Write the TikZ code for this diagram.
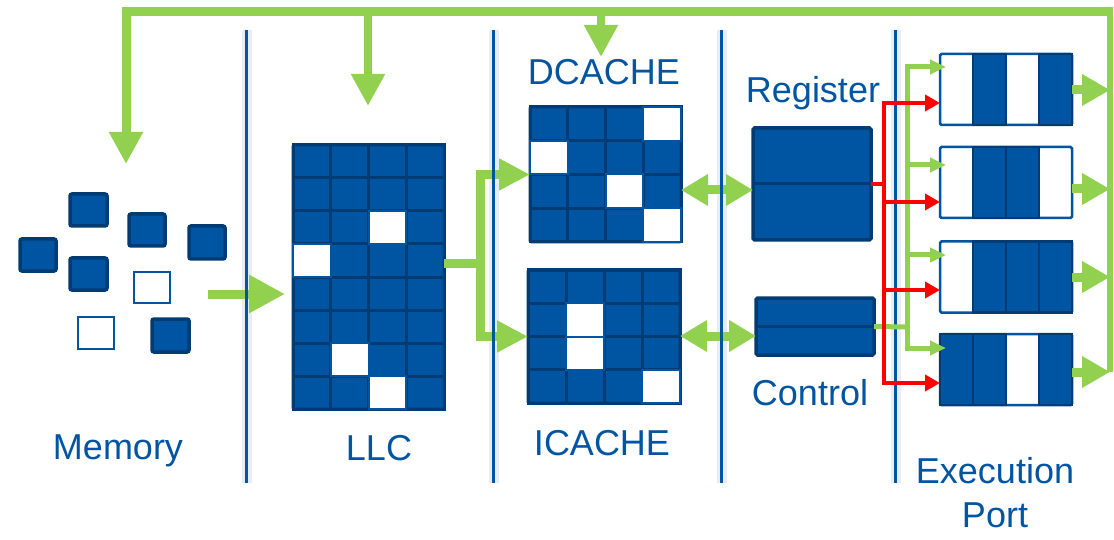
\documentclass[tikz,border=0pt]{standalone}
\usepackage{fontspec}
\setmainfont{Liberation Sans}
\usetikzlibrary{arrows.meta}

\definecolor{cpuBlue}{RGB}{0,85,162}
\definecolor{cpuDark}{RGB}{0,59,115}
\definecolor{busGreen}{RGB}{146,208,80}
\definecolor{ctlRed}{RGB}{255,0,0}
\definecolor{sepGlow}{RGB}{232,236,248}

\tikzset{
  block/.style={draw=cpuDark, fill=cpuBlue, line width=3pt, inner sep=0pt, outer sep=0pt, rounded corners=1.5pt},
  portbox/.style={draw=cpuBlue, fill=white, line width=2.5pt, inner sep=0pt, outer sep=0pt, rounded corners=1.5pt},
  chip/.style={draw=cpuDark, fill=cpuBlue, line width=3.5pt, rounded corners=2pt, inner sep=0pt, outer sep=0pt},
  chipfree/.style={draw=cpuBlue, fill=white, line width=2pt, inner sep=0pt, outer sep=0pt},
  cellline/.style={draw=cpuDark, line width=3pt},
  freecell/.style={draw=cpuBlue, fill=white, line width=2pt},
  bluecell/.style={draw=cpuDark, fill=cpuBlue, line width=2.5pt},
  lbl/.style={text=cpuBlue, font=\fontsize{36}{40}\selectfont, anchor=base, inner sep=0pt},
  sepline/.style={draw=cpuBlue, line width=3pt},
  sephalo/.style={draw=sepGlow, line width=10pt},
  fat/.style={draw=busGreen, line width=9pt},
  fatarrow/.style={fat, -{Triangle[width=32pt,length=32pt]}},
  splitarrow/.style={fat, -{Triangle[width=30pt,length=31pt]}},
  entryarrow/.style={fat, -{Triangle[width=36pt,length=36pt]}},
  outarrow/.style={fat, -{Triangle[width=30pt,length=28pt]}},
  dblarrow/.style={fat, {Triangle[width=30pt,length=27pt]}-{Triangle[width=30pt,length=27pt]}},
  redline/.style={draw=ctlRed, line width=4.5pt},
  redarrow/.style={redline, -{Triangle[width=16pt,length=15pt]}},
  thinline/.style={draw=busGreen, line width=5pt},
  thinarrow/.style={thinline, -{Triangle[width=14pt,length=16pt]}},
}

% grid of cells laid over a block node: node, cell width, cell height, columns, rows
\newcommand\fillcells[5]{%
  \begin{scope}[shift={(#1.north west)}, x=#2pt, y=-#3pt]
    \foreach \i in {1,...,#4}{\foreach \j in {1,...,#5}{%
      \draw[cellline] (\i-1,\j-1) rectangle (\i,\j);}}
  \end{scope}}
% paint selected cells of a block: node, cell width, cell height, style, list of col/row
\newcommand\paintcells[5]{%
  \begin{scope}[shift={(#1.north west)}, x=#2pt, y=-#3pt]
    \foreach \c/\r in {#5}{\draw[#4] (\c,\r) rectangle ++(1,1);}
  \end{scope}}

\begin{document}
\begin{tikzpicture}[x=1pt,y=-1pt]
\useasboundingbox (0,0) rectangle (1114,540);
\fill[white] (0,0) rectangle (1114,540);

% soft halo of the stage separators
\foreach \sx in {246,493,721,895} \draw[sephalo] (\sx+1,30) -- (\sx+1,483);

% memory contents
\node[chip, minimum width=37pt, minimum height=32pt] (m1) at (88.5,210) {};
\node[chip, minimum width=36pt, minimum height=32pt] (m2) at (147,230) {};
\node[chip, minimum width=36pt, minimum height=33pt] (m3) at (207,242.5) {};
\node[chip, minimum width=36pt, minimum height=32pt] (m4) at (38,255) {};
\node[chip, minimum width=37pt, minimum height=32pt] (m5) at (88.5,274) {};
\node[chipfree, minimum width=36pt, minimum height=31pt] (m6) at (152,287.5) {};
\node[chipfree, minimum width=36pt, minimum height=32pt] (m7) at (96,333) {};
\node[chip, minimum width=37pt, minimum height=33pt] (m8) at (170.5,335.5) {};

% caches
\node[block, minimum width=151pt, minimum height=264pt] (llc) at (368.5,277) {};
\fillcells{llc}{37.75}{33}{4}{8}
\paintcells{llc}{37.75}{33}{freecell}{2/2,0/3,1/6,2/7}

\node[block, minimum width=151pt, minimum height=135pt] (dcache) at (605.5,174.5) {};
\fillcells{dcache}{37.75}{33.75}{4}{4}
\paintcells{dcache}{37.75}{33.75}{freecell}{3/0,0/1,2/2,3/3}

\node[block, minimum width=152pt, minimum height=133pt] (icache) at (604,336.5) {};
\fillcells{icache}{38}{33.25}{4}{4}
\paintcells{icache}{38}{33.25}{freecell}{1/1,1/2,3/3}

% register file and control
\node[block, line width=3.5pt, minimum width=118pt, minimum height=112pt] (reg) at (812,184) {};
\draw[cellline, line width=3pt] (reg.west) -- (reg.east);
\node[block, line width=3.5pt, minimum width=118pt, minimum height=57pt] (ctrl) at (815,326.5) {};
\draw[cellline, line width=3pt] (ctrl.west) -- (ctrl.east);

% execution ports
\node[portbox, minimum width=132pt, minimum height=71pt] (port1) at (1006,89.5) {};
\paintcells{port1}{33}{71}{bluecell}{1/0,3/0}
\node[portbox, minimum width=132pt, minimum height=71pt] (port2) at (1006,182.5) {};
\paintcells{port2}{33}{71}{bluecell}{1/0,2/0}
\node[portbox, minimum width=132pt, minimum height=71pt] (port3) at (1006,277) {};
\paintcells{port3}{33}{71}{bluecell}{1/0,2/0,3/0}
\node[portbox, minimum width=132pt, minimum height=71pt] (port4) at (1006,369.5) {};
\paintcells{port4}{33}{71}{bluecell}{0/0,1/0,3/0}

% labels
\node[lbl] (tMem) at (118,459) {Memory};
\node[lbl] (tLLC) at (379,460) {LLC};
\node[lbl] (tDc) at (604,85) {DCACHE};
\node[lbl] (tIc) at (602,455) {ICACHE};
\node[lbl] (tReg) at (813,103) {Register};
\node[lbl] (tCtl) at (810,405) {Control};
\node[lbl] (tEx) at (995,483) {Execution};
\node[lbl] (tPort) at (995,527) {Port};

% write-back bus from the ports to every level
\coordinate (busTR) at (1110,12);
\coordinate (busTL) at (126,12);
\coordinate (busBR) at (1110,372);
\coordinate (memDrop) at (126,164);
\coordinate (llcDrop) at (368,106);
\coordinate (dcDrop) at (601,57);
\draw[fat, line width=6pt] (busBR) -- ([yshift=4pt]busTR);
\draw[fatarrow, line width=9pt] ([xshift=3pt]busTR) -- (busTL) -- (memDrop);
\draw[fatarrow, line width=8pt] (llcDrop |- busTL) -- (llcDrop);
\draw[fatarrow, line width=8pt] (dcDrop |- busTL) -- (dcDrop);

\coordinate (o1) at (1110,90);
\coordinate (o2) at (1110,189);
\coordinate (o3) at (1110,277);
\coordinate (o4) at (1110,372);
\draw[outarrow] (port1.east |- o1) -- (o1);
\draw[outarrow] (port2.east |- o2) -- (o2);
\draw[outarrow] (port3.east |- o3) -- (o3);
\draw[outarrow] (port4.east |- o4) -- (o4);

% memory to LLC
\coordinate (memOut) at (208,294);
\coordinate (llcIn) at (285,294);
\draw[entryarrow] (memOut) -- (llcIn);

% LLC to the L1 caches
\coordinate (split) at (480,264);
\draw[fat] (llc.east |- split) -- (split);
\draw[splitarrow] (split) |- (dcache.west);
\draw[splitarrow] (split) |- (icache.west);

% L1 caches to register file and control
\coordinate (dr) at (717,190);
\coordinate (cr) at (717,336);
\draw[dblarrow] (dcache.east |- dr) -- (reg.west |- dr);
\draw[dblarrow] (icache.east |- cr) -- (ctrl.west |- cr);

% stage separators
\foreach \sx in {246,493,721,895} \draw[sepline] (\sx,30) -- (\sx,483);

% control signals to the ports
\coordinate (gbus) at (907,327);
\coordinate (g1) at (946,67);
\coordinate (g2) at (946,165);
\coordinate (g3) at (946,255);
\coordinate (g4) at (946,348);
\draw[thinline] (ctrl.east) -- (gbus);
\draw[thinarrow] (gbus) |- (g1);
\draw[thinarrow] (gbus) |- (g2);
\draw[thinarrow] (gbus) |- (g3);
\draw[thinarrow] (gbus) |- (g4);

% operands to the ports
\coordinate (rbus) at (884,184);
\coordinate (r1) at (940,103);
\coordinate (r2) at (940,202);
\coordinate (r3) at (940,290);
\coordinate (r4) at (940,383);
\draw[redline] (reg.east) -- (rbus);
\draw[redarrow] (rbus) |- (port1.west |- r1);
\draw[redarrow] (rbus) |- (port2.west |- r2);
\draw[redarrow] (rbus) |- (port3.west |- r3);
\draw[redarrow] (rbus) |- (port4.west |- r4);
\end{tikzpicture}
\end{document}
